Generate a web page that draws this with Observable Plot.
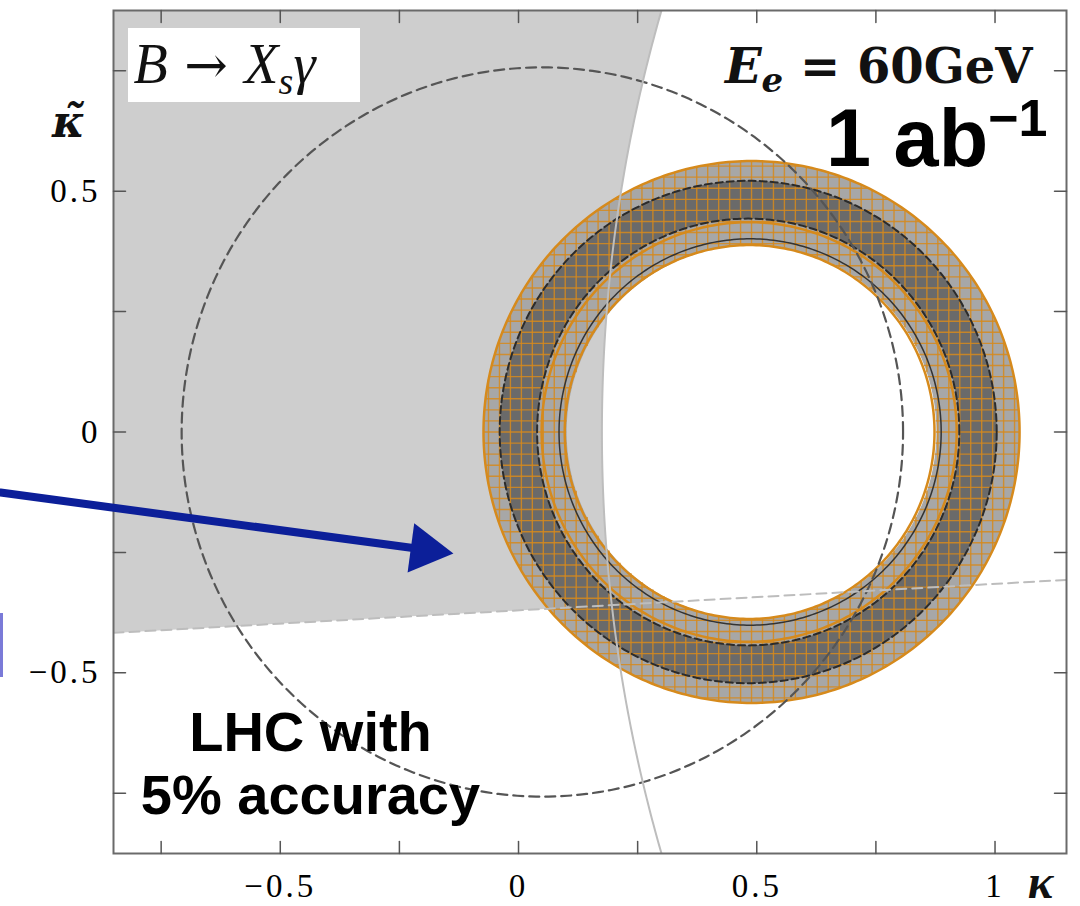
<!DOCTYPE html>
<html>
<head>
<meta charset="utf-8">
<script src="https://cdn.jsdelivr.net/npm/d3@7"></script>
<script src="https://cdn.jsdelivr.net/npm/@observablehq/plot@0.6"></script>
<style>
  html, body { margin: 0; padding: 0; background: #fff; }
  g[aria-label="x-axis tick label"] text,
  g[aria-label="y-axis tick label"] text { letter-spacing: 3px; }
</style>
</head>
<body>
<div id="chart"></div>
<script>
// ---- axes -------------------------------------------------------------
const xDomain = [-0.85, 1.15];
const yDomain = [-0.875, 0.875];
const xTicks = [-0.75, -0.5, -0.25, 0, 0.25, 0.5, 0.75, 1];
const yTicks = [-0.75, -0.5, -0.25, 0, 0.25, 0.5, 0.75];
const xTickLabels = [-0.5, 0, 0.5, 1];
const yTickLabels = [-0.5, 0, 0.5];

// ---- B -> X_s gamma constraint: allowed region left of a wide circle and above a line
const bsgCircle = {cx: 3.30, cy: 0, r: 3.125};
const bsgLine = [{x: -0.85, y: -0.417}, {x: 1.15, y: -0.307}];

// ---- LHC 5% accuracy contour (dashed)
const lhcCircle = {cx: 0.05, cy: 0, r: 0.757};

// ---- LHeC 1 ab^-1 rings
const lightBand = {cx: 0.489, cy: 0, ri: 0.388, ro: 0.5625};
const darkBand = {cx: 0.482, cy: 0, ri: 0.443, ro: 0.5215};
const orangeContours = [
  {cx: 0.489, cy: 0, r: 0.5625},
  {cx: 0.484, cy: 0, r: 0.4355},
  {cx: 0.485, cy: 0, r: 0.388}
];
const darkDashedContours = [
  {cx: 0.482, cy: 0, r: 0.5215},
  {cx: 0.482, cy: 0, r: 0.443}
];
const darkSolidContours = [{cx: 0.486, cy: 0, r: 0.401}];
const hatchStep = 0.023;

// ---- annotations
const titleBox = {x1: -0.8185, x2: -0.3316, y1: 0.684, y2: 0.8376};
const titlePos = {x: -0.808, y: 0.7235};
const energyPos = {x: 1.0786, y: 0.7235};
const lumiPos = {x: 1.110, y: 0.5532};
const lhcPos = {x: -0.4366, y: -0.792};
const yLabelPos = {x: -0.9444, y: 0.6114};
const xLabelPos = {x: 1.0954, y: -0.9664};
const pointer = {x1: -1.0871, y1: -0.1256, x2: -0.1365, y2: -0.2523};
const sideBar = {x: -1.085, y1: -0.3768, y2: -0.5097};

const processText = "B \u2192 Xs\u03b3";
const energyText = "Ee = 60GeV";
const lumiText = "1 ab\u22121";

// ---- geometry helpers
function circlePoints(c, r, dir = 1, n = 360) {
  const pts = [];
  for (let k = 0; k <= n; k++) {
    const t = dir * 2 * Math.PI * k / n;
    pts.push({x: c.cx + r * Math.cos(t), y: c.cy + r * Math.sin(t)});
  }
  return pts;
}
// outer contour one way, inner the other way: nonzero fill leaves the hole open
function annulusPoints(b) {
  return [...circlePoints(b, b.ro, 1), {x: NaN, y: NaN}, ...circlePoints(b, b.ri, -1)];
}
function hatchSegments(b, step) {
  const v = [], h = [];
  const n = Math.ceil(b.ro / step);
  for (let k = -n; k <= n; k++) {
    const d = k * step;
    if (Math.abs(d) >= b.ro) continue;
    const o = Math.sqrt(b.ro * b.ro - d * d);
    if (Math.abs(d) < b.ri) {
      const i = Math.sqrt(b.ri * b.ri - d * d);
      v.push({x: b.cx + d, y1: b.cy + i, y2: b.cy + o}, {x: b.cx + d, y1: b.cy - o, y2: b.cy - i});
      h.push({y: b.cy + d, x1: b.cx + i, x2: b.cx + o}, {y: b.cy + d, x1: b.cx - o, x2: b.cx - i});
    } else {
      v.push({x: b.cx + d, y1: b.cy - o, y2: b.cy + o});
      h.push({y: b.cy + d, x1: b.cx - o, x2: b.cx + o});
    }
  }
  return {v, h};
}
const lineY = (x) => bsgLine[0].y + (bsgLine[1].y - bsgLine[0].y) * (x - bsgLine[0].x) / (bsgLine[1].x - bsgLine[0].x);
const arcX = (y) => bsgCircle.cx - Math.sqrt(bsgCircle.r ** 2 - (y - bsgCircle.cy) ** 2);

// where the wide circle meets the line
let lo = yDomain[0], hi = yDomain[1];
for (let i = 0; i < 60; i++) {
  const m = (lo + hi) / 2;
  if (m - lineY(arcX(m)) > 0) hi = m; else lo = m;
}
const yCross = (lo + hi) / 2;

const regionPoints = [{x: xDomain[0], y: yDomain[1]}];
for (let k = 0; k <= 200; k++) {
  const y = yDomain[1] + (yCross - yDomain[1]) * k / 200;
  regionPoints.push({x: arcX(y), y});
}
regionPoints.push({x: xDomain[0], y: lineY(xDomain[0])});

const arcPoints = [];
for (let k = 0; k <= 200; k++) {
  const y = yDomain[1] + 0.05 - (yDomain[1] - yDomain[0] + 0.1) * k / 200;
  arcPoints.push({x: arcX(y), y});
}

const hatch = hatchSegments(lightBand, hatchStep);
const orange = "#d68a1c";
const tickShape = {draw(context, l) { context.moveTo(0, 0); context.lineTo(0, -l); }};

const serif = "Liberation Serif";
const sans = "Liberation Sans";
const fmt = (d) => d === 0 ? "0" : String(d).replace("-", "\u2212");

const plot = Plot.plot({
  width: 1080,
  height: 906,
  marginTop: 10,
  marginRight: 14,
  marginBottom: 53,
  marginLeft: 113,
  x: {domain: xDomain},
  y: {domain: yDomain},
  style: {background: "white", fontFamily: serif, overflow: "visible"},
  marks: [
    // B -> X_s gamma allowed region
    Plot.line(regionPoints, {x: "x", y: "y", fill: "#cecece", stroke: "none", clip: true}),

    // rings
    Plot.line(annulusPoints(lightBand), {x: "x", y: "y", fill: "#a7a7a7", stroke: "none", clip: true}),
    Plot.line(annulusPoints(darkBand), {x: "x", y: "y", fill: "#6a6a6a", stroke: "none", clip: true}),
    Plot.ruleX(hatch.v, {x: "x", y1: "y1", y2: "y2", stroke: orange, strokeWidth: 1.4, strokeOpacity: 0.85}),
    Plot.ruleY(hatch.h, {y: "y", x1: "x1", x2: "x2", stroke: orange, strokeWidth: 1.4, strokeOpacity: 0.85}),
    ...darkDashedContours.map((c) =>
      Plot.line(circlePoints(c, c.r), {x: "x", y: "y", stroke: "#2b2b2b", strokeWidth: 2, strokeDasharray: "7,4"})),
    ...darkSolidContours.map((c) =>
      Plot.line(circlePoints(c, c.r), {x: "x", y: "y", stroke: "#333", strokeWidth: 1.5})),
    ...orangeContours.map((c) =>
      Plot.line(circlePoints(c, c.r), {x: "x", y: "y", stroke: orange, strokeWidth: 2.5})),

    // LHC contour
    Plot.line(circlePoints(lhcCircle, lhcCircle.r), {x: "x", y: "y", stroke: "#555", strokeWidth: 2.2, strokeDasharray: "10,6", clip: true}),

    // B -> X_s gamma boundaries
    Plot.line(arcPoints, {x: "x", y: "y", stroke: "#bdbdbd", strokeWidth: 2, clip: true}),
    Plot.line(bsgLine, {x: "x", y: "y", stroke: "#bdbdbd", strokeWidth: 2, strokeDasharray: "10,6", clip: true}),

    // frame, inward ticks, tick labels
    Plot.frame({stroke: "#6a6a6a", strokeWidth: 2}),
    Plot.vector(xTicks, {x: (d) => d, y: yDomain[0], length: 12, rotate: 0, anchor: "start", shape: tickShape, stroke: "#555", strokeWidth: 1.5}),
    Plot.vector(xTicks, {x: (d) => d, y: yDomain[1], length: 12, rotate: 180, anchor: "start", shape: tickShape, stroke: "#555", strokeWidth: 1.5}),
    Plot.vector(yTicks, {x: xDomain[0], y: (d) => d, length: 12, rotate: 90, anchor: "start", shape: tickShape, stroke: "#555", strokeWidth: 1.5}),
    Plot.vector(yTicks, {x: xDomain[1], y: (d) => d, length: 12, rotate: -90, anchor: "start", shape: tickShape, stroke: "#555", strokeWidth: 1.5}),
    Plot.axisX(xTickLabels, {anchor: "bottom", tickSize: 0, tickPadding: 20, fontSize: 33, fontFamily: serif, label: null, tickFormat: fmt}),
    Plot.axisY(yTickLabels, {anchor: "left", tickSize: 0, tickPadding: 13, fontSize: 33, fontFamily: serif, label: null, tickFormat: fmt}),

    // axis titles
    Plot.text([yLabelPos], {x: "x", y: "y", text: () => "\u03ba\u0303", fontSize: 44, fontFamily: "DejaVu Serif", fontWeight: "bold", fontStyle: "italic", lineAnchor: "bottom", fill: "#111"}),
    Plot.text([xLabelPos], {x: "x", y: "y", text: () => "\u03ba", fontSize: 48, fontFamily: serif, fontWeight: "bold", fontStyle: "italic", lineAnchor: "bottom", fill: "#111"}),

    // annotations
    Plot.rect([titleBox], {x1: "x1", x2: "x2", y1: "y1", y2: "y2", fill: "white"}),
    Plot.text([titlePos], {x: "x", y: "y", text: () => processText, textAnchor: "start", lineAnchor: "bottom", fontSize: 56, fontFamily: serif, fill: "#111"}),
    Plot.text([energyPos], {x: "x", y: "y", text: () => energyText, textAnchor: "end", lineAnchor: "bottom", fontSize: 48, fontFamily: "DejaVu Serif", fontWeight: "bold", fill: "#111"}),
    Plot.text([lumiPos], {x: "x", y: "y", text: () => lumiText, textAnchor: "end", lineAnchor: "bottom", fontSize: 81, fontFamily: sans, fontWeight: "bold", fill: "#000"}),
    Plot.text([lhcPos], {x: "x", y: "y", text: () => "LHC with\n5% accuracy", textAnchor: "middle", lineAnchor: "bottom", lineHeight: 1.12, fontSize: 56, fontFamily: sans, fontWeight: "bold", fill: "#000"}),

    // pointer arrow coming in from the left
    Plot.arrow([pointer], {x1: "x1", y1: "y1", x2: "x2", y2: "y2", stroke: "#0c1f99", strokeWidth: 8, headLength: 0, insetEnd: 24}),
    Plot.dot([pointer], {x: "x2", y: "y2", symbol: "triangle", r: 18.4, rotate: 97.7, dx: -28.4, dy: -3.8, fill: "#0c1f99", stroke: "none"}),
    Plot.ruleX([sideBar], {x: "x", y1: "y1", y2: "y2", stroke: "#7a7ad8", strokeWidth: 3})
  ]
});

// sub- and superscripts: rebuild a text element as styled runs
function richText(svg, content, parts) {
  d3.select(svg).selectAll("text")
    .filter(function () { return this.textContent === content; })
    .each(function () {
      const text = d3.select(this);
      text.text(null);
      for (const p of parts) {
        const ts = text.append("tspan").text(p.t);
        for (const [k, v] of Object.entries(p.a || {})) ts.attr(k, v);
      }
    });
}
richText(plot, processText, [
  {t: "B", a: {"font-style": "italic"}},
  {t: " \u2192 ", a: {"font-style": "normal", "font-family": "DejaVu Serif", "font-size": 52}},
  {t: "X", a: {"font-style": "italic"}},
  {t: "s", a: {"font-style": "italic", "font-size": 38, dy: 11}},
  {t: "\u03b3", a: {"font-style": "italic", "font-size": 56, dy: -11}}
]);
richText(plot, energyText, [
  {t: "E", a: {"font-style": "italic"}},
  {t: "e", a: {"font-style": "italic", "font-size": 34, dy: 9}},
  {t: " = 60GeV", a: {"font-size": 48, dy: -9}}
]);
richText(plot, lumiText, [
  {t: "1 ab"},
  {t: "\u22121", a: {"font-size": 52, dy: -30}}
]);

document.getElementById("chart").append(plot);
</script>
</body>
</html>
